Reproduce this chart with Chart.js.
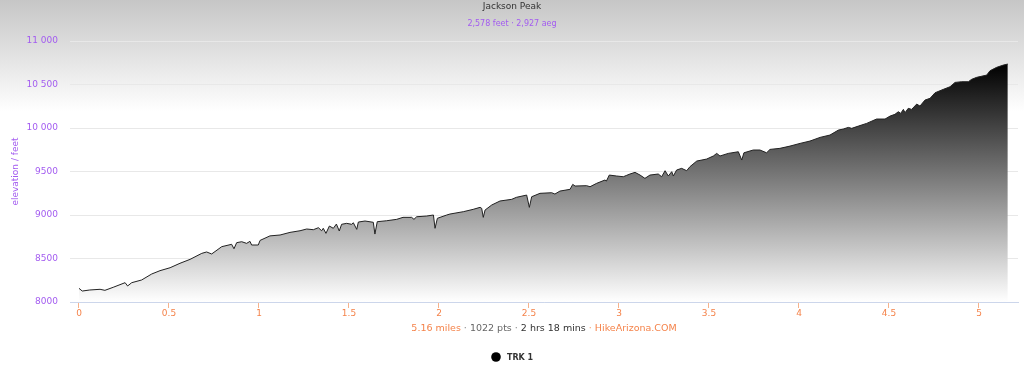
<!DOCTYPE html>
<html>
<head>
<meta charset="utf-8">
<script src="https://cdn.jsdelivr.net/npm/chart.js@4/dist/chart.umd.min.js"></script>
<style>
  body { margin: 0; background: #fff; }
  canvas { display: block; }
</style>
</head>
<body>
<canvas id="profile" width="1024" height="371"></canvas>
<script>
// distance along the track (miles) and elevation (feet)
var miles = [0, 0.018, 0.06, 0.117, 0.144, 0.19, 0.256, 0.27, 0.293, 0.348, 0.404, 0.45, 0.506, 0.561, 0.617, 0.682, 0.709, 0.737, 0.793, 0.848, 0.861, 0.876, 0.904, 0.931, 0.95, 0.959, 0.996,
  1.006, 1.061, 1.117, 1.172, 1.228, 1.265, 1.302, 1.33, 1.348, 1.357, 1.372, 1.391, 1.413, 1.43, 1.446, 1.459, 1.487, 1.515, 1.524, 1.543, 1.552, 1.589, 1.635, 1.644, 1.657, 1.709, 1.765, 1.8, 1.848, 1.861, 1.876, 1.931, 1.969, 1.978, 1.991,
  2.043, 2.061, 2.135, 2.19, 2.228, 2.237, 2.246, 2.256, 2.293, 2.339, 2.404, 2.43, 2.487, 2.502, 2.515, 2.561, 2.626, 2.644, 2.672, 2.728, 2.743, 2.756, 2.82, 2.839, 2.876, 2.922, 2.93, 2.946, 2.987,
  3.024, 3.043, 3.061, 3.089, 3.117, 3.144, 3.172, 3.218, 3.237, 3.256, 3.274, 3.293, 3.302, 3.32, 3.348, 3.376, 3.394, 3.432, 3.487, 3.524, 3.543, 3.561, 3.607, 3.663, 3.682, 3.694, 3.746, 3.783, 3.82, 3.839, 3.894, 3.95,
  4.006, 4.061, 4.117, 4.172, 4.219, 4.246, 4.274, 4.293, 4.33, 4.376, 4.431, 4.478, 4.506, 4.533, 4.552, 4.565, 4.58, 4.589, 4.607, 4.626, 4.654, 4.672, 4.7, 4.728, 4.756, 4.802, 4.839, 4.867, 4.904, 4.941, 4.959, 4.987,
  5.043, 5.061, 5.098, 5.135, 5.16];
var elevation = [8157, 8126, 8138, 8146, 8134, 8169, 8222, 8184, 8222, 8253, 8322, 8360, 8394, 8445, 8490, 8559, 8575, 8552, 8636, 8663, 8612, 8682, 8693, 8674, 8697, 8655, 8655,
  8708, 8760, 8770, 8800, 8819, 8839, 8831, 8854, 8819, 8847, 8789, 8873, 8847, 8896, 8816, 8893, 8904, 8893, 8911, 8835, 8919, 8931, 8916, 8781, 8923, 8934, 8950, 8973, 8973, 8950, 8980, 8988, 9000, 8847, 8962,
  9000, 9011, 9038, 9065, 9088, 9077, 8973, 9057, 9115, 9161, 9180, 9203, 9229, 9088, 9210, 9249, 9256, 9241, 9275, 9295, 9352, 9333, 9337, 9325, 9364, 9402, 9390, 9459, 9448,
  9440, 9456, 9471, 9490, 9459, 9421, 9459, 9471, 9440, 9509, 9448, 9498, 9448, 9517, 9536, 9509, 9555, 9620, 9643, 9678, 9708, 9678, 9708, 9727, 9632, 9715, 9747, 9747, 9715, 9754, 9766, 9792,
  9823, 9850, 9892, 9919, 9976, 9988, 10007, 9996, 10022, 10053, 10103, 10103, 10137, 10157, 10187, 10168, 10214, 10175, 10226, 10214, 10275, 10252, 10321, 10341, 10405, 10444, 10474, 10524, 10532, 10532, 10559, 10582,
  10608, 10658, 10697, 10723, 10735];

var xTickValues = [0, 0.5, 1, 1.5, 2, 2.5, 3, 3.5, 4, 4.5, 5];
var xTickLabels = ['0', '0.5', '1', '1.5', '2', '2.5', '3', '3.5', '4', '4.5', '5'];
var yTickValues = [8000, 8500, 9000, 9500, 10000, 10500, 11000];
var yTickLabels = ['8000', '8500', '9000', '9500', '10 000', '10 500', '11 000'];

var chartTitle = 'Jackson Peak';
var chartSubtitle = '2,578 feet \u00b7 2,927 aeg';
var seriesName = 'TRK 1';
var captionParts = [
  ['5.16 miles', '#f5834a'], [' \u00b7 ', '#888'], ['1022 pts', '#666'], [' \u00b7 ', '#888'],
  ['2 hrs 18 mins', '#333'], [' \u00b7 ', '#f5a070'], ['HikeArizona.COM', '#f5834a']
];

var purple = '#a35cf0';
var orange = '#f5834a';
var fontFam = '"DejaVu Sans", "Liberation Sans", sans-serif';
Chart.defaults.font.family = fontFam;

// gray to white background behind the whole chart
var backdrop = {
  id: 'backdrop',
  beforeDraw: function (chart) {
    var c = chart.ctx;
    var g = c.createLinearGradient(0, 0, 0, 112);
    g.addColorStop(0, '#c6c6c6');
    g.addColorStop(1, '#ffffff');
    c.save();
    c.fillStyle = g;
    c.fillRect(0, 0, chart.width, chart.height);
    c.restore();
  }
};

// title, subtitle, caption under the x axis and the legend item
var texts = {
  id: 'texts',
  afterDraw: function (chart) {
    var c = chart.ctx;
    var area = chart.chartArea;
    c.save();
    c.textBaseline = 'middle';
    c.textAlign = 'center';
    c.fillStyle = '#333';
    c.font = '9px ' + fontFam;
    c.fillText(chartTitle, 512, 6.5);
    c.fillStyle = purple;
    c.font = '8px ' + fontFam;
    c.fillText(chartSubtitle, 512, 23.5);

    // caption, several colours in one line
    c.font = '9.5px ' + fontFam;
    c.textAlign = 'left';
    var total = 0;
    captionParts.forEach(function (p) { total += c.measureText(p[0]).width; });
    var x = (area.left + area.right) / 2 - total / 2;
    captionParts.forEach(function (p) {
      c.fillStyle = p[1];
      c.fillText(p[0], x, 329);
      x += c.measureText(p[0]).width;
    });

    // legend
    c.fillStyle = '#000';
    c.beginPath();
    c.arc(496, 357, 4.8, 0, Math.PI * 2);
    c.fill();
    c.fillStyle = '#333';
    c.font = 'bold 8px ' + fontFam;
    c.fillText(seriesName, 507, 357.5);
    c.restore();
  }
};

var ctx = document.getElementById('profile');
var chart = new Chart(ctx, {
  type: 'line',
  data: {
    datasets: [{
      label: seriesName,
      data: miles.map(function (m, i) { return { x: m, y: elevation[i] }; }),
      borderColor: '#222',
      borderWidth: 1,
      pointRadius: 0,
      tension: 0,
      fill: 'start',
      backgroundColor: function (context) {
        var ch = context.chart;
        if (!ch.chartArea) return 'rgba(0,0,0,0.5)';
        var top = ch.scales.y.getPixelForValue(Math.max.apply(null, elevation));
        var g = ch.ctx.createLinearGradient(0, top, 0, ch.chartArea.bottom);
        g.addColorStop(0, '#000000');
        g.addColorStop(1, '#ffffff');
        return g;
      }
    }]
  },
  options: {
    responsive: false,
    animation: false,
    layout: { padding: { top: 41, right: 6, bottom: 0, left: 0 } },
    plugins: {
      legend: { display: false },
      title: { display: false },
      tooltip: { enabled: false }
    },
    scales: {
      x: {
        type: 'linear',
        min: -0.05,
        max: 5.2167,
        afterBuildTicks: function (s) { s.ticks = xTickValues.map(function (v) { return { value: v }; }); },
        afterFit: function (s) { s.height = 69; },
        ticks: {
          color: orange,
          font: { size: 9 },
          padding: 0,
          maxRotation: 0,
          autoSkip: false,
          callback: function (v) { return xTickLabels[xTickValues.indexOf(v)]; }
        },
        grid: {
          drawOnChartArea: false,
          drawTicks: true,
          tickLength: 6,
          tickColor: '#f7b28c',
          color: '#f7b28c'
        },
        border: { display: true, color: '#ccd6eb', width: 1 }
      },
      y: {
        min: 8000,
        max: 11000,
        afterBuildTicks: function (s) { s.ticks = yTickValues.map(function (v) { return { value: v }; }); },
        afterFit: function (s) { s.width = 70; },
        ticks: {
          color: purple,
          font: { size: 9 },
          padding: 12,
          callback: function (v) { return yTickLabels[yTickValues.indexOf(v)]; }
        },
        grid: { color: '#e8e8e8', drawTicks: false },
        border: { display: false },
        title: {
          display: true,
          text: 'elevation / feet',
          color: purple,
          font: { size: 9 },
          padding: { top: 10, bottom: 0 }
        }
      }
    }
  },
  plugins: [backdrop, texts]
});
</script>
</body>
</html>
